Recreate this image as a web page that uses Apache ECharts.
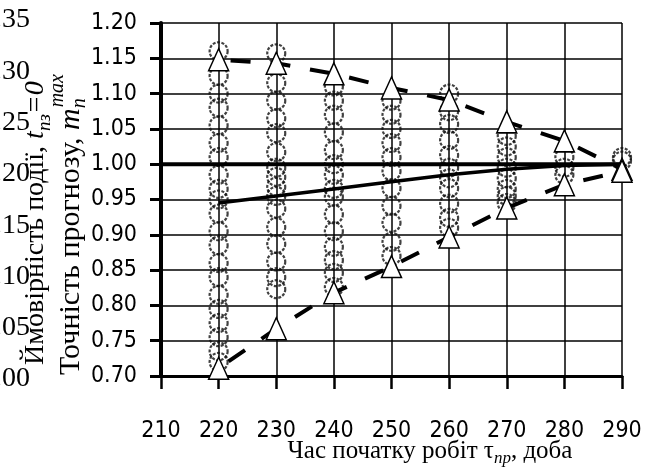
<!DOCTYPE html>
<html><head><meta charset="utf-8">
<script src="https://cdn.jsdelivr.net/npm/echarts@6/dist/echarts.min.js"></script>
<style>html,body{margin:0;padding:0;background:#fff}#c{width:656px;height:473px}</style>
</head><body><div id="c"></div>
<script>
// ---- data ----
const xTicks = [220, 230, 240, 250, 260, 270, 280, 290];
const upperBound = [1.148, 1.143, 1.128, 1.108, 1.091, 1.06, 1.033, 0.993];
const lowerBound = [0.711, 0.767, 0.818, 0.855, 0.897, 0.938, 0.971, 0.99];
const meanAccuracy = [0.945, 0.955, 0.965, 0.975, 0.985, 0.993, 0.998, 1.0];
const referenceLevel = 1.0;
const referenceSpan = [210, 291.8];
const circlesAt220 = [1.16, 1.125, 1.10, 1.08, 1.055, 1.03, 1.01, 0.985, 0.965, 0.95, 0.93, 0.905, 0.885, 0.86, 0.84, 0.815, 0.795, 0.775, 0.755, 0.735, 0.72];
const circlesAt230 = [1.157, 1.115, 1.09, 1.065, 1.044, 1.017, 0.995, 0.982, 0.968, 0.955, 0.937, 0.911, 0.887, 0.862, 0.84, 0.823];
const circlesAt240 = [1.11, 1.09, 1.07, 1.045, 1.02, 1.0, 0.985, 0.965, 0.954, 0.929, 0.905, 0.883, 0.864, 0.846, 0.826];
const circlesAt250 = [1.09, 1.07, 1.05, 1.03, 1.01, 0.99, 0.966, 0.941, 0.917, 0.89, 0.87];
const circlesAt260 = [1.10, 1.075, 1.057, 1.034, 1.013, 0.995, 0.98, 0.966, 0.944, 0.924, 0.91];
const circlesAt270 = [1.04, 1.025, 1.01, 0.995, 0.98, 0.965, 0.955, 0.945];
const circlesAt280 = [1.01, 0.995, 0.985];
const circlesAt290 = [1.01, 1.005];
const yTickMin = 0.70, yTickMax = 1.20, yTickStep = 0.05;
const xTickMin = 210, xTickMax = 290, xTickStep = 10;
const probMin = 0.00, probMax = 0.35, probStep = 0.05;

// ---- build ----
const circleCols = [circlesAt220, circlesAt230, circlesAt240, circlesAt250, circlesAt260, circlesAt270, circlesAt280, circlesAt290];
const circleData = [];
circleCols.forEach((col, i) => col.forEach(v => circleData.push([xTicks[i], v])));
const pair = arr => arr.map((v, i) => [xTicks[i], v]);

const serif = '"Liberation Serif","Times New Roman",serif';
const narrow = '"DejaVu Sans Condensed","Liberation Sans Narrow",sans-serif';

// measure text to place the stacked superscript
const mctx = document.createElement('canvas').getContext('2d');
function tw(font, s) { mctx.font = font; return mctx.measureText(s).width; }
const name2Size = 30;
const name2Start = 375;
const name2MainW = tw(name2Size + 'px ' + serif, 'Точність прогнозу, ') + tw('italic ' + name2Size + 'px ' + serif, 'm');
const supStart = name2Start - name2MainW - 1;

const chart = echarts.init(document.getElementById('c'), null, {renderer: 'canvas'});
chart.setOption({
  animation: false,
  backgroundColor: '#fff',
  grid: [
    {left: 161, right: 34, top: 23, bottom: 97, containLabel: false},
    {left: 22, width: 10, top: 20, bottom: 94, containLabel: false}
  ],
  xAxis: [{
    gridIndex: 0, type: 'value', min: xTickMin, max: xTickMax, interval: xTickStep,
    axisLine: {show: true, onZero: false, lineStyle: {color: '#000', width: 3}},
    axisTick: {show: true, length: 13, lineStyle: {color: '#000', width: 2.5}},
    axisLabel: {show: true, margin: 44, color: '#000', fontFamily: narrow, fontSize: 23, showMinLabel: true, showMaxLabel: true},
    splitLine: {show: true, lineStyle: {color: '#000', width: 1.5}}
  }, {
    gridIndex: 1, type: 'value', show: false, min: 0, max: 1
  }],
  yAxis: [{
    gridIndex: 0, type: 'value', min: yTickMin, max: yTickMax, interval: yTickStep,
    axisLine: {show: true, onZero: false, lineStyle: {color: '#000', width: 4}},
    axisTick: {show: true, length: 11, lineStyle: {color: '#000', width: 3}},
    axisLabel: {show: true, margin: 24, color: '#000', fontFamily: narrow, fontSize: 23, formatter: v => v.toFixed(2), showMinLabel: true, showMaxLabel: true},
    splitLine: {show: true, lineStyle: {color: '#000', width: 1.5}}
  }, {
    gridIndex: 1, type: 'value', min: probMin, max: probMax, interval: probStep, position: 'left',
    axisLine: {show: false}, axisTick: {show: false}, splitLine: {show: false},
    axisLabel: {show: true, margin: 2, color: '#000', fontFamily: serif, fontSize: 28, formatter: v => v.toFixed(2), showMinLabel: true, showMaxLabel: true}
  }],
  series: [
    {
      type: 'scatter', xAxisIndex: 0, yAxisIndex: 0, data: circleData, symbol: 'circle', symbolSize: 18, z: 2,
      itemStyle: {color: 'rgba(255,255,255,0)', borderColor: '#111', borderWidth: 2.2, borderType: [3, 1.5]}
    },
    {
      type: 'line', data: pair(meanAccuracy), showSymbol: false, z: 3,
      lineStyle: {color: '#000', width: 3.5}
    },
    {
      type: 'line', data: referenceSpan.map(x => [x, referenceLevel]), showSymbol: false, clip: false, z: 3,
      lineStyle: {color: '#000', width: 4}
    },
    {
      type: 'line', data: pair(upperBound), symbol: 'triangle', symbolSize: [20, 22], showAllSymbol: true, z: 4,
      lineStyle: {color: '#000', width: 4, type: [20, 20], dashOffset: 28},
      itemStyle: {color: '#fff', borderColor: '#000', borderWidth: 1.5}
    },
    {
      type: 'line', data: pair(lowerBound), symbol: 'triangle', symbolSize: [20, 22], showAllSymbol: true, z: 4,
      lineStyle: {color: '#000', width: 4, type: [20, 20], dashOffset: 28},
      itemStyle: {color: '#fff', borderColor: '#000', borderWidth: 1.5}
    }
  ],
  graphic: [
    {
      type: 'text', x: 36, y: 365, rotation: Math.PI / 2, silent: true,
      style: {
        text: '{a|Ймовірність події, }{i|t}{s|пз}{i|=0}',
        align: 'left', verticalAlign: 'middle', fill: '#000',
        rich: {
          a: {fontFamily: serif, fontSize: 28, lineHeight: 36, color: '#000'},
          i: {fontFamily: serif, fontSize: 28, lineHeight: 36, fontStyle: 'italic', color: '#000'},
          s: {fontFamily: serif, fontSize: 19, lineHeight: 20, fontStyle: 'italic', verticalAlign: 'bottom', color: '#000'}
        }
      }
    },
    {
      type: 'text', x: 71, y: name2Start, rotation: Math.PI / 2, silent: true,
      style: {
        text: '{a|Точність прогнозу, }{i|m}{s|n}',
        align: 'left', verticalAlign: 'middle', fill: '#000',
        rich: {
          a: {fontFamily: serif, fontSize: name2Size, lineHeight: 38, color: '#000'},
          i: {fontFamily: serif, fontSize: name2Size, lineHeight: 38, fontStyle: 'italic', color: '#000'},
          s: {fontFamily: serif, fontSize: 20, lineHeight: 21, fontStyle: 'italic', verticalAlign: 'bottom', color: '#000'}
        }
      }
    },
    {
      type: 'text', x: 58, y: supStart, rotation: Math.PI / 2, silent: true,
      style: {text: 'max', align: 'left', verticalAlign: 'middle', fill: '#000', font: 'italic 20px ' + serif}
    },
    {
      type: 'text', x: 430, y: 451, silent: true,
      style: {
        text: '{a|Час початку робіт τ}{s|пр}{a|, доба}',
        align: 'center', verticalAlign: 'middle', fill: '#000',
        rich: {
          a: {fontFamily: serif, fontSize: 25, lineHeight: 32, color: '#000'},
          s: {fontFamily: serif, fontSize: 17, lineHeight: 18, fontStyle: 'italic', verticalAlign: 'bottom', color: '#000'}
        }
      }
    }
  ]
});
</script></body></html>
